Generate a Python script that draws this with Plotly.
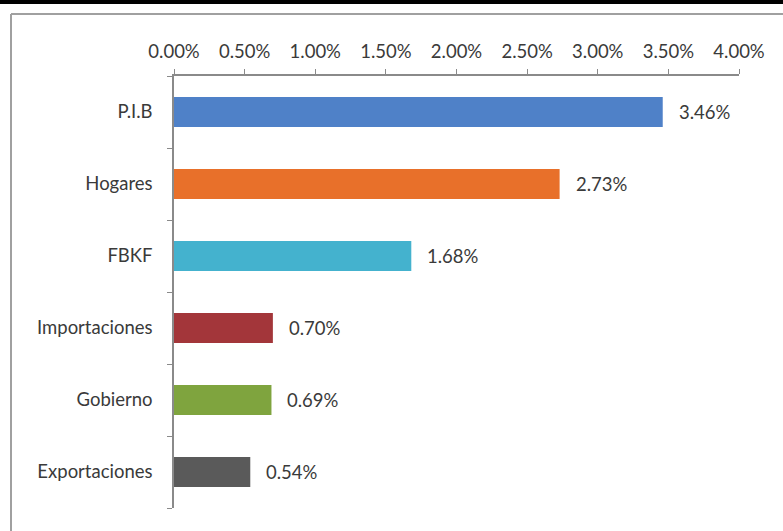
import plotly.graph_objects as go

# Growth contribution by demand component
categories = ["P.I.B", "Hogares", "FBKF", "Importaciones", "Gobierno", "Exportaciones"]
values = [3.46, 2.73, 1.68, 0.70, 0.69, 0.54]
colors = ["#4F81C8", "#E8702A", "#44B2CE", "#A3363A", "#7FA43E", "#5A5A5A"]
tick_vals = [0, 0.5, 1, 1.5, 2, 2.5, 3, 3.5, 4]
tick_text = ["%.2f%%" % v for v in tick_vals]

W, H = 783, 531
L, R, T, B = 174, 44, 76, 23
pw, ph = W - L - R, H - T - B

def px_x(p):
    return (p - L) / pw

def px_y(p):
    return (H - B - p) / ph

font_family = "Lato, 'Open Sans', sans-serif"
text_color = "#3A3A3A"
font_size = 18.5

fig = go.Figure()
fig.add_trace(go.Bar(
    y=categories,
    x=values,
    orientation="h",
    marker=dict(color=colors, line=dict(width=0)),
    width=0.42,
    hoverinfo="skip",
))

annotations = []
for c, v in zip(categories, values):
    annotations.append(dict(
        x=v, y=c, xref="x", yref="y", text="%.2f%%" % v,
        showarrow=False, xanchor="left", xshift=14,
        font=dict(family=font_family, size=font_size, color=text_color),
    ))

shapes = [
    # heavy rule along the top
    dict(type="line", xref="paper", yref="paper",
         x0=px_x(0), x1=px_x(W), y0=px_y(2), y1=px_y(2),
         line=dict(color="#000000", width=4)),
    # light frame
    dict(type="line", xref="paper", yref="paper",
         x0=px_x(11), x1=px_x(W + 5), y0=px_y(14), y1=px_y(14),
         line=dict(color="#A0A0A0", width=2)),
    dict(type="line", xref="paper", yref="paper",
         x0=px_x(11), x1=px_x(11), y0=px_y(14), y1=px_y(H + 5),
         line=dict(color="#A0A0A0", width=2)),
]

fig.update_layout(
    width=W, height=H,
    margin=dict(l=L, r=R, t=T, b=B),
    paper_bgcolor="white",
    plot_bgcolor="white",
    showlegend=False,
    annotations=annotations,
    shapes=shapes,
    xaxis=dict(
        side="top", range=[0, 4], tickvals=tick_vals, ticktext=tick_text,
        showgrid=False, zeroline=False,
        showline=True, linecolor="#8A8A8A", linewidth=1.5,
        ticks="outside", ticklen=5, tickcolor="#8A8A8A",
        tickfont=dict(family=font_family, size=font_size, color=text_color),
        ticklabelstandoff=4,
    ),
    yaxis=dict(
        categoryorder="array", categoryarray=categories[::-1],
        range=[-0.5, 5.5],
        showgrid=False, zeroline=False,
        showline=True, linecolor="#8A8A8A", linewidth=1.5,
        ticks="outside", ticklen=5, tickcolor="#8A8A8A",
        tickson="boundaries",
        tickfont=dict(family=font_family, size=font_size, color=text_color),
        ticklabelstandoff=16,
    ),
)

fig.write_html("out.html")
